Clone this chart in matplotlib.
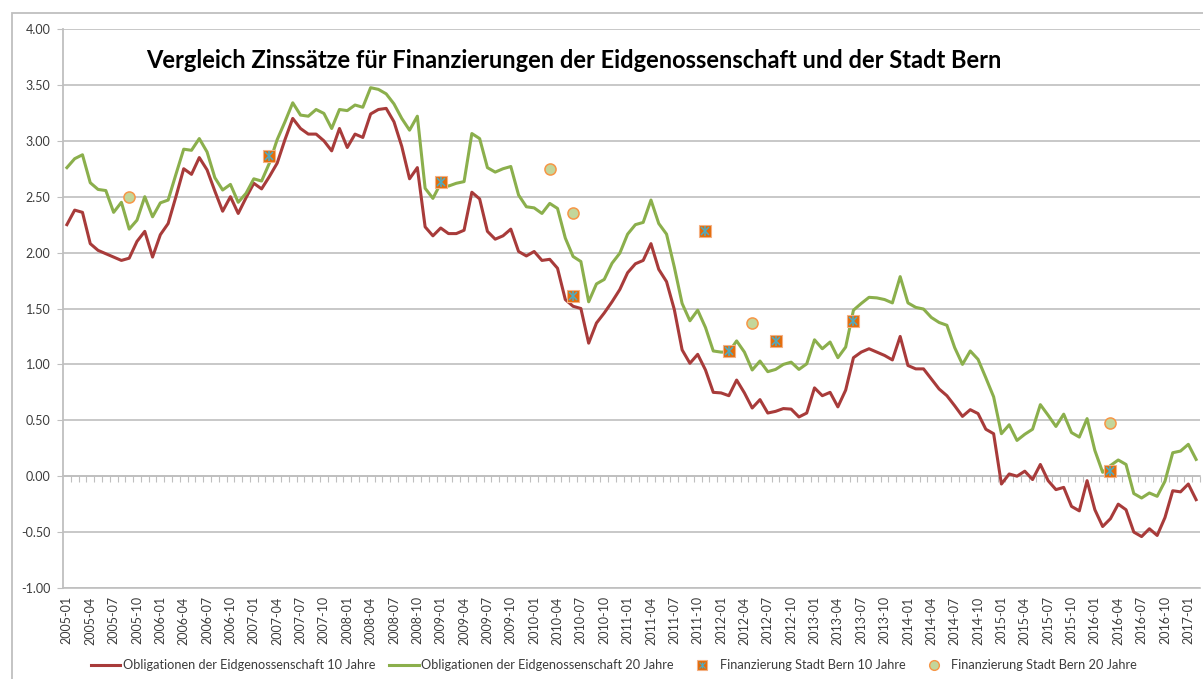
import matplotlib.pyplot as plt
from matplotlib.lines import Line2D
from matplotlib.patches import Rectangle
from matplotlib.legend_handler import HandlerTuple
from matplotlib.ticker import FormatStrFormatter
import numpy as np
import pandas as pd

plt.rcParams['font.family'] = ['Lato', 'DejaVu Sans']

# monthly categories 2005-01 .. 2017-02
months = list(pd.period_range('2005-01', '2017-02', freq='M').strftime('%Y-%m'))

# Obligationen der Eidgenossenschaft 10 Jahre (%)
oblig10 = [2.25, 2.38, 2.36, 2.08, 2.02, 1.99, 1.96, 1.93, 1.95, 2.10,
           2.19, 1.96, 2.16, 2.26, 2.50, 2.75, 2.70, 2.85, 2.74, 2.55,
           2.37, 2.50, 2.35, 2.49, 2.62, 2.57, 2.68, 2.80, 3.01, 3.20,
           3.11, 3.06, 3.06, 3.00, 2.91, 3.11, 2.94, 3.06, 3.03, 3.24,
           3.28, 3.29, 3.17, 2.95, 2.66, 2.76, 2.23, 2.15, 2.22, 2.17,
           2.17, 2.20, 2.54, 2.48, 2.19, 2.12, 2.15, 2.21, 2.01, 1.97,
           2.01, 1.93, 1.94, 1.86, 1.58, 1.52, 1.50, 1.19, 1.37, 1.46,
           1.56, 1.67, 1.82, 1.90, 1.93, 2.08, 1.85, 1.74, 1.49, 1.13,
           1.01, 1.09, 0.95, 0.75, 0.745, 0.72, 0.86, 0.745, 0.61, 0.685,
           0.565, 0.58, 0.605, 0.60, 0.53, 0.565, 0.79, 0.72, 0.75, 0.62,
           0.77, 1.06, 1.11, 1.14, 1.11, 1.08, 1.04, 1.25, 0.99, 0.96,
           0.96, 0.87, 0.78, 0.72, 0.63, 0.535, 0.595, 0.56, 0.42, 0.38,
           -0.07, 0.02, 0.00, 0.045, -0.03, 0.105, -0.04, -0.12, -0.10, -0.27,
           -0.31, -0.04, -0.30, -0.45, -0.38, -0.25, -0.30, -0.50, -0.54, -0.47,
           -0.53, -0.37, -0.13, -0.14, -0.07, -0.21]

# Obligationen der Eidgenossenschaft 20 Jahre (%)
oblig20 = [2.76, 2.84, 2.875, 2.625, 2.565, 2.555, 2.36, 2.45, 2.21, 2.29,
           2.50, 2.32, 2.445, 2.47, 2.70, 2.925, 2.915, 3.02, 2.90, 2.67,
           2.56, 2.61, 2.45, 2.53, 2.66, 2.64, 2.80, 3.01, 3.17, 3.34,
           3.23, 3.22, 3.28, 3.245, 3.11, 3.28, 3.27, 3.32, 3.30, 3.475,
           3.46, 3.42, 3.33, 3.20, 3.095, 3.22, 2.575, 2.485, 2.62, 2.595,
           2.62, 2.635, 3.065, 3.02, 2.76, 2.72, 2.75, 2.77, 2.515, 2.41,
           2.40, 2.35, 2.44, 2.395, 2.13, 1.965, 1.92, 1.56, 1.72, 1.76,
           1.905, 1.995, 2.165, 2.25, 2.27, 2.47, 2.26, 2.165, 1.87, 1.545,
           1.39, 1.485, 1.33, 1.12, 1.11, 1.11, 1.21, 1.11, 0.95, 1.03,
           0.935, 0.955, 1.00, 1.02, 0.955, 1.005, 1.22, 1.14, 1.20, 1.06,
           1.155, 1.485, 1.545, 1.60, 1.595, 1.58, 1.55, 1.785, 1.55, 1.51,
           1.495, 1.42, 1.375, 1.35, 1.15, 1.00, 1.12, 1.045, 0.88, 0.71,
           0.38, 0.46, 0.32, 0.375, 0.42, 0.64, 0.545, 0.445, 0.555, 0.39,
           0.35, 0.515, 0.23, 0.035, 0.095, 0.145, 0.105, -0.155, -0.195, -0.15,
           -0.18, -0.045, 0.21, 0.225, 0.285, 0.15]

# Finanzierung Stadt Bern
bern10_dates = ['2007-03', '2009-01', '2010-06', '2011-11', '2012-02', '2012-08', '2013-06', '2016-03']
bern10_vals = [2.86, 2.63, 1.61, 2.19, 1.12, 1.21, 1.39, 0.05]
bern20_dates = ['2005-09', '2010-03', '2010-06', '2012-05', '2016-03']
bern20_vals = [2.50, 2.75, 2.35, 1.37, 0.48]

RED = '#A83B3A'
GREEN = '#8BAF4C'
GRID = '#BFBFBF'
TXT = '#3C3C3C'

W, H = 1203, 679
fig = plt.figure(figsize=(W / 100, H / 100), dpi=100)
ax = fig.add_axes([63 / W, 1 - 588 / H, (1200 - 63) / W, (588 - 29) / H])

n = len(months)
x = np.arange(n)
ax.plot(x, oblig10, color=RED, lw=2.2, solid_joinstyle='round', zorder=3)
ax.plot(x, oblig20, color=GREEN, lw=2.2, solid_joinstyle='round', zorder=3)

b10x = [months.index(d) for d in bern10_dates]
b20x = [months.index(d) for d in bern20_dates]
ax.plot(b10x, bern10_vals, ls='none', marker='s', ms=8.5, mfc='#E46C0A',
        mec='#F4B183', mew=0.8, zorder=4)
ax.plot(b10x, bern10_vals, ls='none', marker='x', ms=6, mec='#4BACC6', mew=1.1, zorder=5)
ax.plot(b10x, bern10_vals, ls='none', marker='|', ms=7, mec='#4BACC6', mew=1.1, zorder=5)
ax.plot(b20x, bern20_vals, ls='none', marker='o', ms=8, mfc='#C3D69B',
        mec='#F79646', mew=1.1, zorder=4)

ax.set_xlim(-0.5, n - 0.5)
ax.set_ylim(-1, 4)
ax.set_yticks(np.arange(-1, 4.01, 0.5))
ax.yaxis.set_major_formatter(FormatStrFormatter('%.2f'))
ax.grid(axis='y', color=GRID, lw=1.2)
ax.set_axisbelow(True)
for s in ['top', 'right']:
    ax.spines[s].set_visible(False)
ax.spines['left'].set_color(GRID)
ax.spines['left'].set_linewidth(1.3)
ax.spines['bottom'].set_color(GRID)
ax.spines['bottom'].set_linewidth(1.2)
ax.tick_params(axis='y', length=4, color=GRID, labelsize=9, labelcolor=TXT, pad=5)

ax.set_xticks(x[::3])
ax.set_xticklabels(months[::3], rotation=90)
ax.tick_params(axis='x', length=0, labelsize=9, labelcolor=TXT, pad=6)

# category axis crossing at 0 with small tick marks
sec = ax.secondary_xaxis(0.2)
sec.set_xticks(np.arange(0.5, n, 1))
sec.tick_params(length=4, direction='out', color=GRID, labelbottom=False)
sec.spines['bottom'].set_color(GRID)
sec.spines['bottom'].set_linewidth(1.2)

fig.text(146 / W, 1 - 68 / H,
         'Vergleich Zinssätze für Finanzierungen der Eidgenossenschaft und der Stadt Bern',
         fontsize=17, fontweight='bold', color='black', va='baseline')

fig.patches.append(Rectangle((12 / W, -0.1), 1.2, 1.1 - 13 / H, transform=fig.transFigure,
                             fill=False, ec=GRID, lw=1.3))

handles = [Line2D([], [], color=RED, lw=2.2),
           Line2D([], [], color=GREEN, lw=2.2),
           (Line2D([], [], ls='none', marker='s', ms=7, mfc='#E46C0A', mec='#F4B183', mew=0.8),
            Line2D([], [], ls='none', marker='x', ms=4.5, mec='#4BACC6', mew=0.8),
            Line2D([], [], ls='none', marker='|', ms=5, mec='#4BACC6', mew=0.8)),
           Line2D([], [], ls='none', marker='o', ms=7, mfc='#C3D69B', mec='#F79646', mew=1)]
labels = ['Obligationen der Eidgenossenschaft 10 Jahre',
          'Obligationen der Eidgenossenschaft 20 Jahre',
          'Finanzierung Stadt Bern 10 Jahre',
          'Finanzierung Stadt Bern 20 Jahre']
leg = fig.legend(handles, labels, ncol=4, loc='center', bbox_to_anchor=(614 / W, 1 - 665 / H),
                 frameon=False, fontsize=9.2, handlelength=2.3, handletextpad=0.2,
                 columnspacing=1.1, handler_map={tuple: HandlerTuple(ndivide=1)})
for t in leg.get_texts():
    t.set_color(TXT)

fig.savefig('out.png', dpi=100)
